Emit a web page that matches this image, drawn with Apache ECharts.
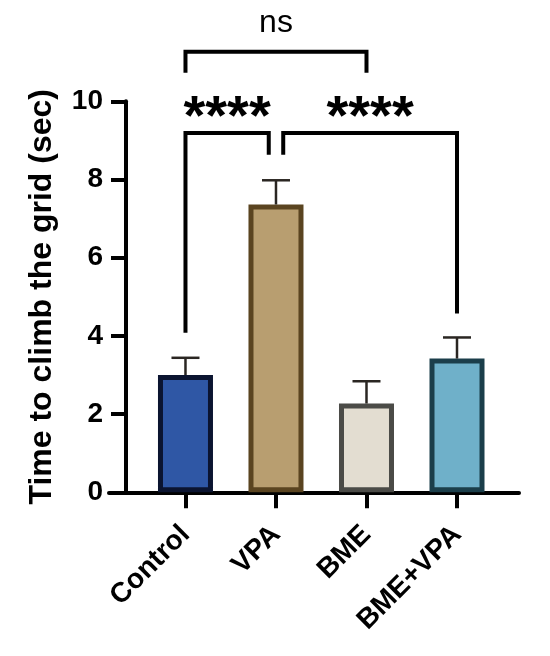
<!DOCTYPE html>
<html>
<head>
<meta charset="utf-8">
<script src="https://cdn.jsdelivr.net/npm/echarts@6/dist/echarts.min.js"></script>
<style>
  html, body { margin: 0; padding: 0; background: #fff; }
  #chart { width: 550px; height: 656px; }
</style>
</head>
<body>
<div id="chart"></div>
<script>
const categories = ['Control', 'VPA', 'BME', 'BME+VPA'];
const means = [3.0, 7.36, 2.27, 3.42];
const errTops = [3.44, 7.98, 2.84, 3.96];
const fillColors = ['#2f57a5', '#b89e70', '#e3ddd1', '#6fb0c9'];
const borderColors = ['#0b1430', '#5a4420', '#4b4b47', '#1b3e4a'];

// significance brackets: from, to, bar height, left leg end, right leg end, label height
const bracketFrom = [0, 1.08, 0];
const bracketTo = [0.92, 3, 2];
const bracketTop = [9.19, 9.19, 11.27];
const bracketLeftEnd = [4.08, 8.63, 10.73];
const bracketRightEnd = [8.63, 4.57, 10.73];
const bracketLabelY = [9.55, 9.55, 12.0];
const bracketLabels = ['****', '****', 'ns'];

const FONT = 'Arial, "Liberation Sans", Helvetica, sans-serif';

const chart = echarts.init(document.getElementById('chart'), null, { renderer: 'canvas' });

const barData = means.map((v, i) => ({
  value: [i, v],
  itemStyle: { color: fillColors[i], borderColor: borderColors[i], borderWidth: 5 }
}));

const errData = means.map((v, i) => [i, v, errTops[i]]);

const bracketData = bracketFrom.map((f, i) =>
  [f, bracketTo[i], bracketTop[i], bracketLeftEnd[i], bracketRightEnd[i], bracketLabelY[i]]);

chart.setOption({
  animation: false,
  backgroundColor: '#fff',
  grid: { left: 109, right: 31, top: 101.3, bottom: 163.7, containLabel: false },
  xAxis: {
    type: 'value',
    min: -0.845,
    max: 3.685,
    splitLine: { show: false },
    axisLine: { onZero: false, lineStyle: { color: '#000', width: 4 } },
    axisTick: { customValues: [0, 1, 2, 3], length: 16, lineStyle: { color: '#000', width: 4 } },
    axisLabel: {
      customValues: [0, 1, 2, 3],
      formatter: (v) => categories[Math.round(v)],
      rotate: 45,
      margin: 38,
      color: '#000',
      fontFamily: FONT,
      fontWeight: 'bold',
      fontSize: 28
    }
  },
  yAxis: {
    type: 'value',
    min: 0,
    max: 10,
    interval: 2,
    offset: -17,
    splitLine: { show: false },
    axisLine: { show: true, onZero: false, lineStyle: { color: '#000', width: 4 } },
    axisTick: { show: true, length: 15, lineStyle: { color: '#000', width: 4 } },
    axisLabel: { margin: 23, color: '#000', fontFamily: FONT, fontWeight: 'bold', fontSize: 28 },
    name: 'Time to climb the grid (sec)',
    nameLocation: 'middle',
    nameGap: 68,
    nameTextStyle: { color: '#000', fontFamily: FONT, fontWeight: 'bold', fontSize: 32 }
  },
  series: [
    {
      type: 'bar',
      barWidth: 55,
      data: barData,
      z: 2
    },
    {
      type: 'custom',
      z: 3,
      data: errData,
      renderItem: (params, api) => {
        const base = api.coord([api.value(0), api.value(1)]);
        const top = api.coord([api.value(0), api.value(2)]);
        const half = 14;
        return {
          type: 'group',
          children: [
            { type: 'line', shape: { x1: base[0], y1: base[1], x2: top[0], y2: top[1] },
              style: { stroke: '#2a2622', lineWidth: 2.5 } },
            { type: 'line', shape: { x1: top[0] - half, y1: top[1], x2: top[0] + half, y2: top[1] },
              style: { stroke: '#2a2622', lineWidth: 2.5 } }
          ]
        };
      }
    },
    {
      type: 'custom',
      z: 4,
      clip: false,
      data: bracketData,
      renderItem: (params, api) => {
        const i = params.dataIndex;
        const x1 = api.value(0), x2 = api.value(1), yTop = api.value(2);
        const pts = [
          api.coord([x1, api.value(3)]),
          api.coord([x1, yTop]),
          api.coord([x2, yTop]),
          api.coord([x2, api.value(4)])
        ];
        const lbl = api.coord([(x1 + x2) / 2, api.value(5)]);
        const isStars = bracketLabels[i] !== 'ns';
        return {
          type: 'group',
          children: [
            { type: 'polyline', shape: { points: pts },
              style: { stroke: '#000', lineWidth: 4, fill: null } },
            { type: 'text', x: lbl[0], y: lbl[1],
              style: {
                text: bracketLabels[i],
                textAlign: 'center',
                textVerticalAlign: 'middle',
                fill: '#000',
                fontFamily: FONT,
                fontWeight: isStars ? 'bold' : 'normal',
                fontSize: isStars ? 56 : 32
              } }
          ]
        };
      }
    }
  ]
});
</script>
</body>
</html>
